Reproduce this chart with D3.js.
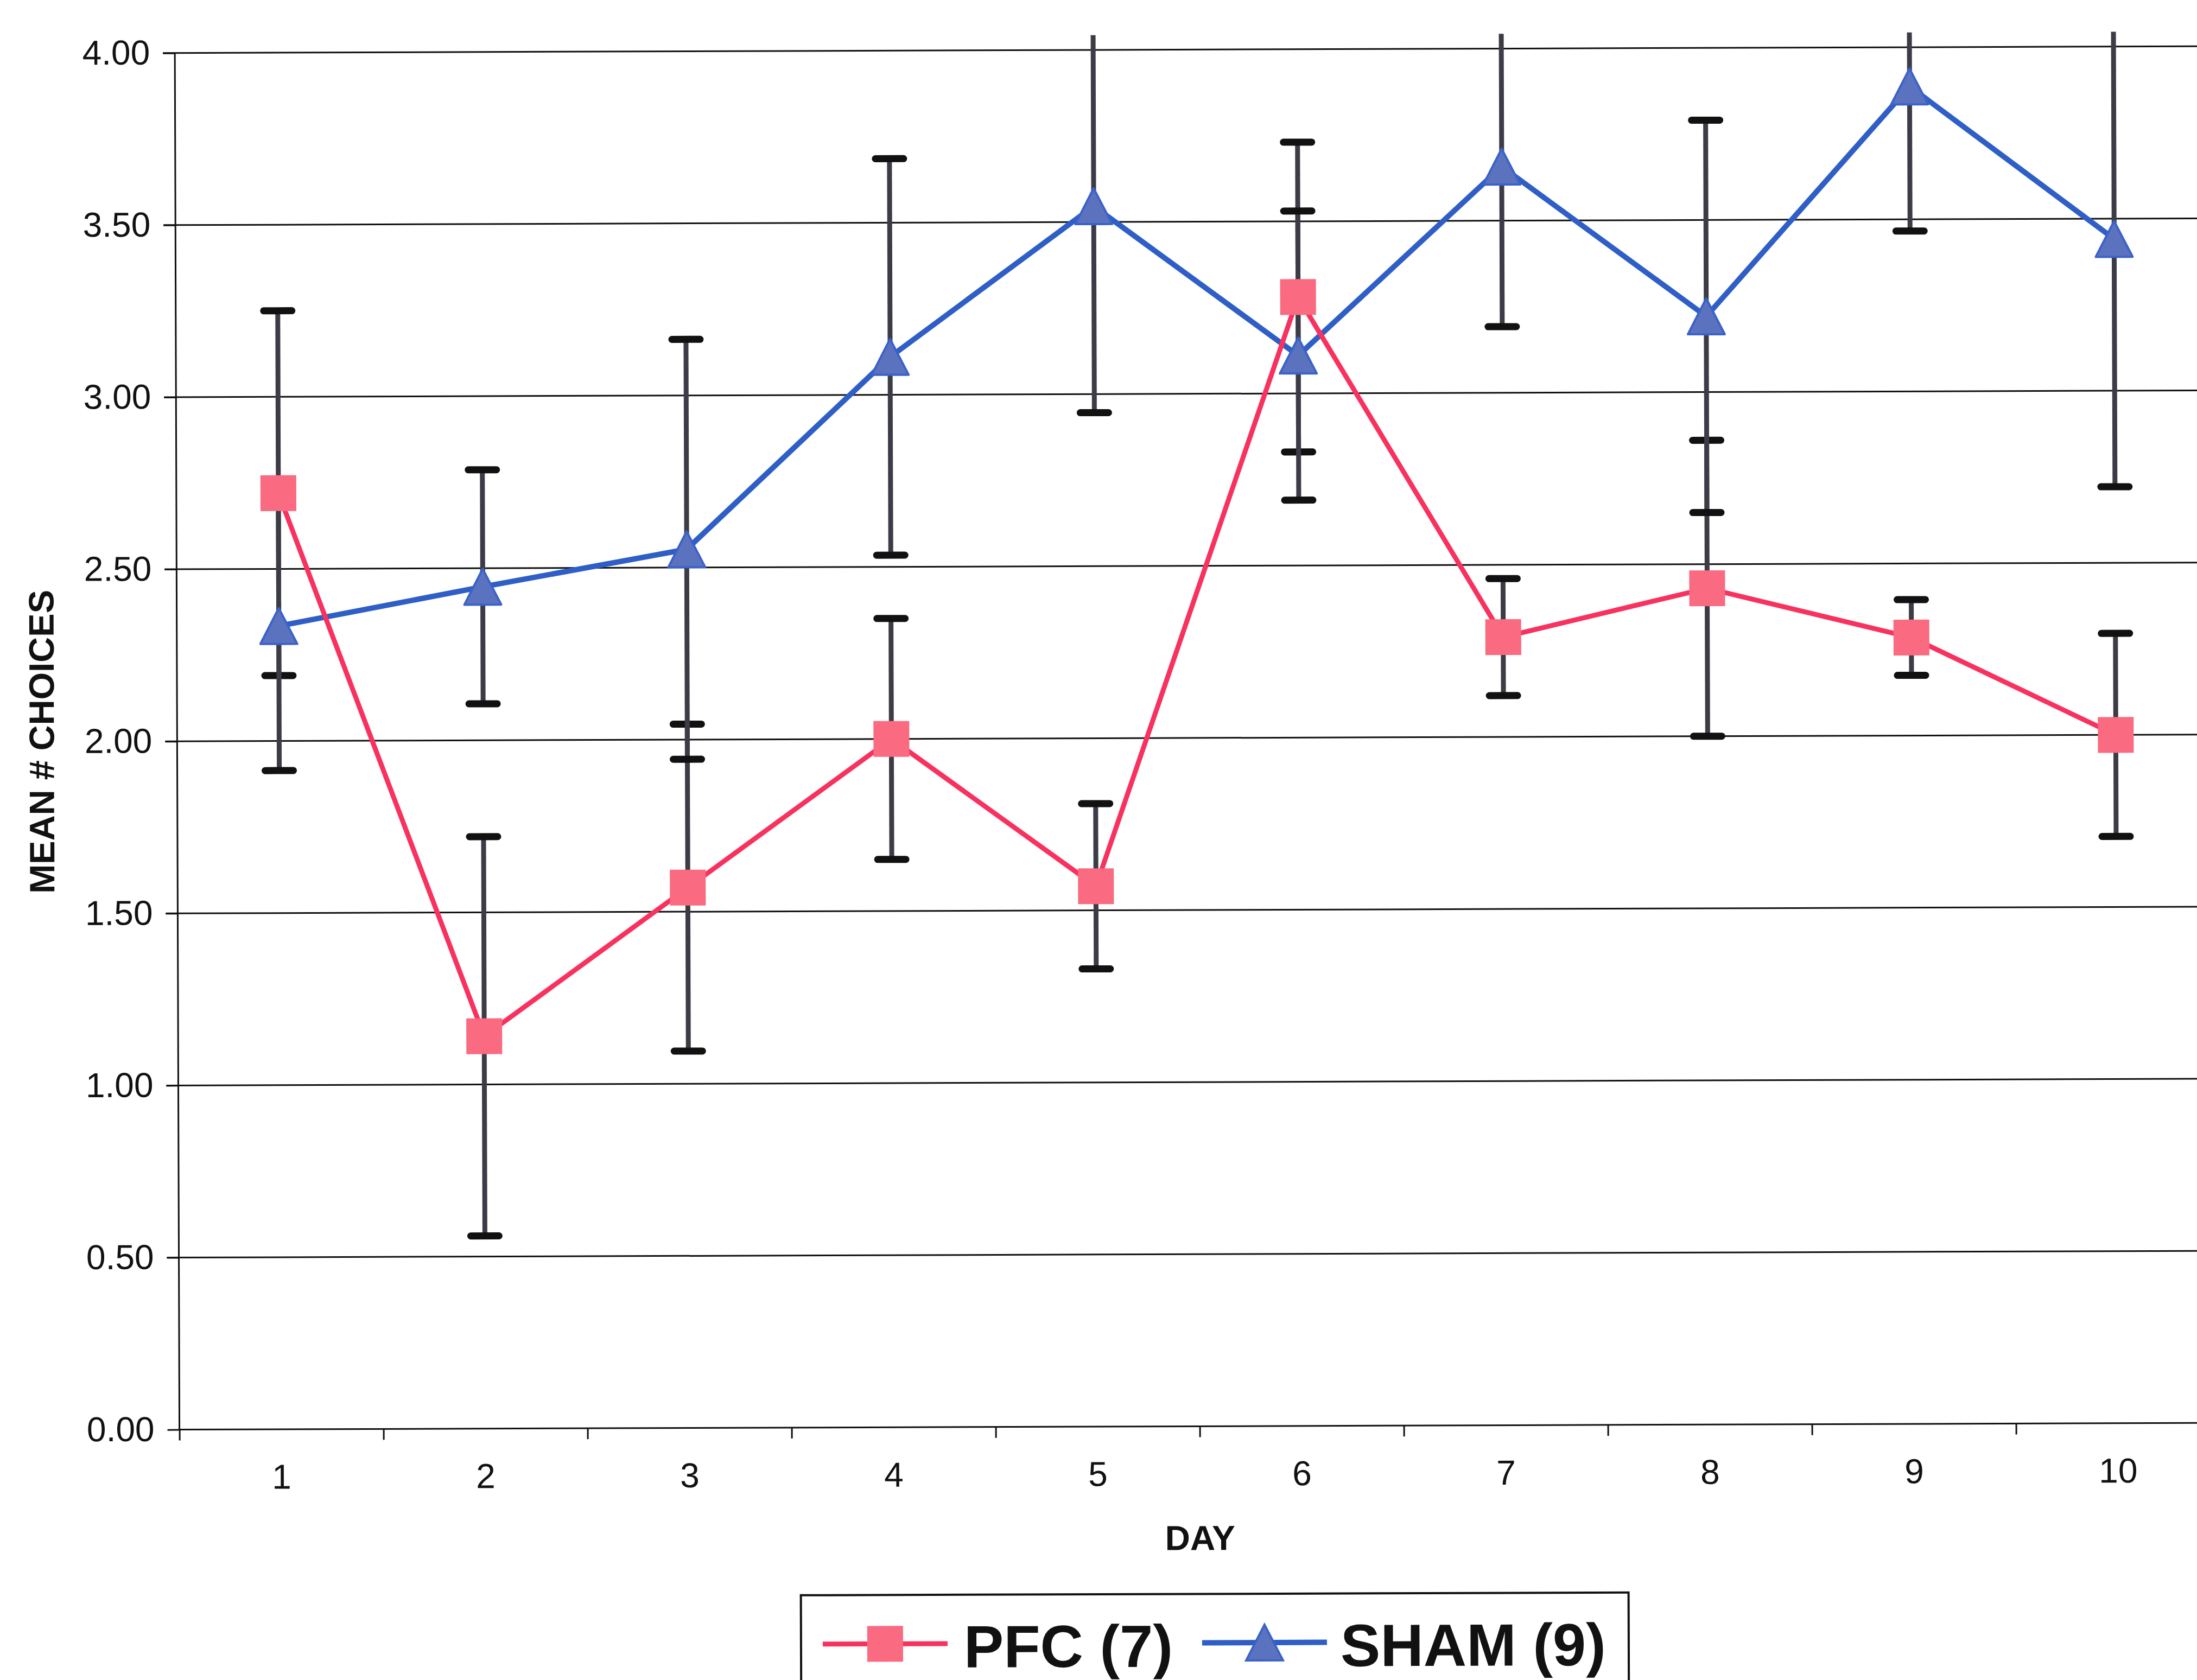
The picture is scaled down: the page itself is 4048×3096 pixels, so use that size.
<!DOCTYPE html>
<html>
<head>
<meta charset="utf-8">
<script src="https://d3js.org/d3.v7.min.js"></script>
<style>
    body { margin: 0; background: #fff; }
    svg { display: block; }
    text { font-family: "Liberation Sans", Arial, sans-serif; fill: #111; }
    .axis path, .axis line { stroke: #111; stroke-width: 3; }
    .axis text { font-size: 64px; fill: #111; }
</style>
</head>
<body>
<div id="chart-area"></div>
<script>

// DATA
var days = ["1", "2", "3", "4", "5", "6", "7", "8", "9", "10"];
var pfcMean = [2.72, 1.14, 1.57, 2.00, 1.57, 3.28, 2.29, 2.43, 2.285, 2.00];
var pfcErr = [0.53, 0.58, 0.475, 0.35, 0.24, 0.45, 0.17, 0.43, 0.11, 0.295];
var shamMean = [2.334, 2.446, 2.553, 3.11, 3.546, 3.11, 3.657, 3.22, 3.886, 3.441];
var shamErr = [0.42, 0.34, 0.61, 0.576, 0.60, 0.42, 0.465, 0.57, 0.42, 0.72];
var yTicks = [0, 0.5, 1, 1.5, 2, 2.5, 3, 3.5, 4];
var seriesNames = ["PFC (7)", "SHAM (9)"];

// SVG drawing area
var W = 4048, H = 3096;
var margin = {top: 92, left: 327};
var width = 3760, height = 2537;

var svg = d3.select("#chart-area").append("svg")
    .attr("width", W)
    .attr("height", H);

svg.append("rect").attr("width", W).attr("height", H).attr("fill", "#fff");

// the original is a slightly tilted scan
var root = svg.append("g")
    .attr("transform", "rotate(-0.19," + W / 2 + "," + H / 2 + ")");

var g = root.append("g")
    .attr("transform", "translate(" + margin.left + "," + margin.top + ")");

//SCALES
var x = d3.scaleBand().domain(days).range([0, width]).padding(0);
var xb = d3.scaleLinear().domain([0, days.length]).range([0, width]);
var y = d3.scaleLinear().domain([0, 4]).range([height, 0]);
var yClip = 4.043;

var cx = function(i) { return x(days[i]) + x.bandwidth() / 2; };

//GRIDLINES
g.append("g")
    .selectAll("line")
    .data(yTicks.filter(function(d) { return d > 0; }))
    .enter().append("line")
    .attr("x1", -22).attr("x2", width)
    .attr("y1", function(d) { return y(d); })
    .attr("y2", function(d) { return y(d); })
    .attr("stroke", "#111")
    .attr("stroke-width", 3);

//AXES
var yAxis = d3.axisLeft(y)
    .tickValues(yTicks)
    .tickSize(22)
    .tickPadding(24)
    .tickFormat(d3.format(".2f"));

g.append("g")
    .attr("class", "axis y-axis")
    .call(yAxis)
    .call(function(s) { s.select(".domain").attr("d", "M0," + height + "V0"); });

g.append("g")
    .attr("class", "axis x-axis")
    .attr("transform", "translate(0," + height + ")")
    .call(d3.axisBottom(xb).ticks(days.length).tickSize(20).tickFormat(""))
    .call(function(s) { s.select(".domain").attr("d", "M0,0H" + width); });

g.append("g")
    .attr("class", "axis x-labels")
    .attr("transform", "translate(0," + height + ")")
    .call(d3.axisBottom(x).tickSize(0).tickPadding(64))
    .call(function(s) { s.select(".domain").remove(); });

g.append("text")
    .attr("x", width / 2)
    .attr("y", height + 228)
    .attr("text-anchor", "middle")
    .style("font-size", "64px")
    .style("font-weight", "bold")
    .text("DAY");

g.append("text")
    .attr("transform", "translate(" + (100 - margin.left) + "," + (height / 2) + ") rotate(-90)")
    .attr("text-anchor", "middle")
    .style("font-size", "65px")
    .style("font-weight", "bold")
    .text("MEAN # CHOICES");

//ERROR BARS
function errorBars(mean, err) {
    var eb = g.append("g");
    mean.forEach(function(m, i) {
        var hi = m + err[i], lo = m - err[i];
        eb.append("line")
            .attr("x1", cx(i)).attr("x2", cx(i))
            .attr("y1", y(Math.min(hi, yClip))).attr("y2", y(lo))
            .attr("stroke", "#3c3c46")
            .attr("stroke-width", 9);
        [hi, lo].forEach(function(v) {
            if (v > yClip) return;
            eb.append("line")
                .attr("x1", cx(i) - 26).attr("x2", cx(i) + 26)
                .attr("y1", y(v)).attr("y2", y(v))
                .attr("stroke", "#111")
                .attr("stroke-width", 13)
                .attr("stroke-linecap", "round");
        });
    });
}
errorBars(pfcMean, pfcErr);
errorBars(shamMean, shamErr);

//LINES
var drawLine = d3.line()
    .x(function(d, i) { return cx(i); })
    .y(function(d) { return y(d); });

g.append("path")
    .attr("d", drawLine(shamMean))
    .attr("fill", "none")
    .attr("stroke", "#2f5fc6")
    .attr("stroke-width", 10)
    .attr("stroke-linejoin", "round");

g.append("path")
    .attr("d", drawLine(pfcMean))
    .attr("fill", "none")
    .attr("stroke", "#f8325f")
    .attr("stroke-width", 9)
    .attr("stroke-linejoin", "round");

//MARKERS
var triPath = "M0,-33L34,33L-34,33Z";

g.selectAll(".sq")
    .data(pfcMean)
    .enter().append("rect")
    .attr("class", "sq")
    .attr("x", function(d, i) { return cx(i) - 33; })
    .attr("y", function(d) { return y(d) - 33; })
    .attr("width", 66).attr("height", 66)
    .attr("fill", "#fa6a80");

g.selectAll(".tri")
    .data(shamMean)
    .enter().append("path")
    .attr("class", "tri")
    .attr("d", triPath)
    .attr("transform", function(d, i) { return "translate(" + cx(i) + "," + y(d) + ")"; })
    .attr("fill", "#5b72bf")
    .attr("stroke", "#3b62c9")
    .attr("stroke-width", 4)
    .attr("stroke-linejoin", "round");

//LEGEND
var legend = root.append("g").attr("transform", "translate(1471,2938)");

legend.append("rect")
    .attr("width", 1525).attr("height", 220)
    .attr("fill", "#fff")
    .attr("stroke", "#111")
    .attr("stroke-width", 4);

legend.append("line")
    .attr("x1", 40).attr("x2", 270).attr("y1", 90).attr("y2", 90)
    .attr("stroke", "#f8325f").attr("stroke-width", 9);
legend.append("rect")
    .attr("x", 122).attr("y", 57).attr("width", 66).attr("height", 66)
    .attr("fill", "#fa6a80");
legend.append("text")
    .attr("x", 300).attr("y", 134)
    .style("font-size", "110px").style("font-weight", "bold")
    .text(seriesNames[0]);

legend.append("line")
    .attr("x1", 739).attr("x2", 969).attr("y1", 90).attr("y2", 90)
    .attr("stroke", "#2f5fc6").attr("stroke-width", 10);
legend.append("path")
    .attr("d", triPath)
    .attr("transform", "translate(854,90)")
    .attr("fill", "#5b72bf")
    .attr("stroke", "#3b62c9")
    .attr("stroke-width", 4);
legend.append("text")
    .attr("x", 994).attr("y", 134)
    .style("font-size", "110px").style("font-weight", "bold")
    .text(seriesNames[1]);

</script>
</body>
</html>
